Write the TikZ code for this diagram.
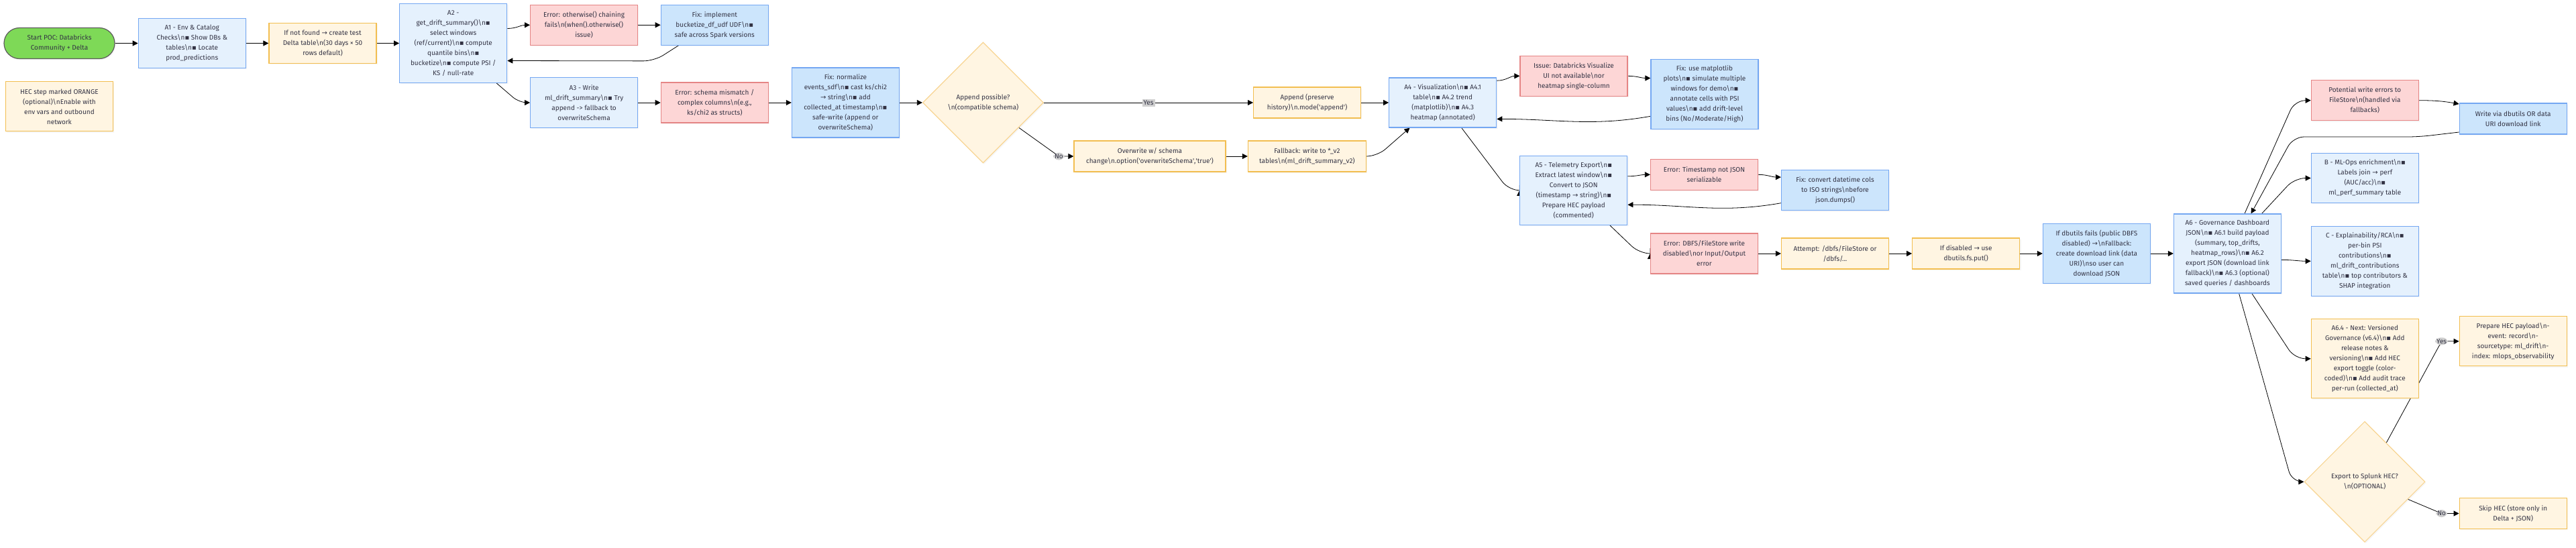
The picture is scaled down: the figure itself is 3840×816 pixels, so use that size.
\documentclass[tikz,border=0pt]{standalone}
\usepackage{fontspec}
\setmainfont{Fira Sans}
\newfontfamily\dvfont{DejaVu Sans}
\usepackage{tikz}
\usetikzlibrary{arrows.meta,positioning}
\usetikzlibrary{shapes.geometric,shadows,backgrounds}

\definecolor{ink}{HTML}{333344}
\definecolor{procfill}{HTML}{E5F1FD}
\definecolor{fixfill}{HTML}{CCE5FC}
\definecolor{procline}{HTML}{74A7F2}
\definecolor{errfill}{HTML}{FDD6D6}
\definecolor{errline}{HTML}{E58585}
\definecolor{optfill}{HTML}{FFF5E2}
\definecolor{optline}{HTML}{F2BE50}
\definecolor{dialine}{HTML}{F8D593}
\definecolor{startfill}{HTML}{7ED957}
\definecolor{startline}{HTML}{5C5C5C}
\definecolor{lblfill}{HTML}{CFCFCF}

\newcommand{\bsn}{\textbackslash n}
\newcommand{\bul}{{\dvfont ▪}}
\newcommand{\rarr}{{\dvfont →}}
\newcommand{\qt}{\textquotesingle}

\begin{document}
\begin{tikzpicture}[
    x=0.5pt,y=-0.5pt,
    >={Triangle[length=4pt,width=4pt]},
    thick,
    base/.style={
        rectangle,
        align=center,
        inner sep=1pt,
        line width=0.6pt,
        text=ink,
        font=\fontsize{5}{7.5}\selectfont,
        minimum width=80pt,
        drop shadow={opacity=0.07,shadow xshift=0.9pt,shadow yshift=-0.9pt}
    },
    proc/.style={base, draw=procline, fill=procfill},
    fixbox/.style={base, draw=procline, fill=fixfill},
    errbox/.style={base, draw=errline, fill=errfill},
    optbox/.style={base, draw=optline, fill=optfill},
    decision/.style={
        base, diamond,
        draw=dialine, fill=optfill,
        minimum width=90pt, minimum height=90pt,
        inner sep=0pt
    },
    startbox/.style={
        base,
        draw=startline, fill=startfill,
        rounded corners=11.5pt,
        minimum width=82.5pt, minimum height=23pt
    },
    lbl/.style={
        fill=lblfill,
        text=ink,
        font=\fontsize{5}{6}\selectfont,
        inner sep=1pt
    }
]
\useasboundingbox (0,0) rectangle (3840,816);

% ====== start and first checks ======
\node[startbox] (start) at (88.5,64.5) {Start POC: Databricks\\Community + Delta};
\node[proc, minimum height=37pt] (a1) at (286.3,64.5) {A1 - Env \& Catalog\\Checks\bsn\bul{} Show DBs \&\\tables\bsn\bul{} Locate\\prod\_predictions};
\node[optbox, minimum height=30pt] (notfound) at (481,64.5) {If not found \rarr{} create test\\Delta table\bsn(30 days × 50\\rows default)};
\node[optbox, minimum height=37pt] (hecnote) at (88.4,158.8) {HEC step marked ORANGE\\(optional)\bsn Enable with\\env vars and outbound\\network};

% ====== A2 drift summary ======
\node[proc, minimum height=59pt] (a2) at (675.7,64.5) {A2 -\\get\_drift\_summary()\bsn\bul\\select windows\\(ref/current)\bsn\bul{} compute\\quantile bins\bsn\bul\\bucketize\bsn\bul{} compute PSI /\\KS / null-rate};
\node[errbox, minimum height=30pt] (err1) at (870.6,37.3) {Error: otherwise() chaining\\fails\bsn(when().otherwise()\\issue)};
\node[fixbox, minimum height=30pt] (fix1) at (1065.3,37.3) {Fix: implement\\bucketize\_df\_udf UDF\bsn\bul\\safe across Spark versions};

% ====== A3 write ======
\node[proc, minimum height=37.5pt] (a3) at (870.6,153) {A3 - Write\\ml\_drift\_summary\bsn\bul{} Try\\append -> fallback to\\overwriteSchema};
\node[errbox, minimum height=30pt] (err2) at (1065.3,153) {Error: schema mismatch /\\complex columns\bsn(e.g.,\\ks/chi2 as structs)};
\node[fixbox, minimum height=52pt] (fix2) at (1260.4,153) {Fix: normalize\\events\_sdf\bsn\bul{} cast ks/chi2\\\rarr{} string\bsn\bul{} add\\collected\_at timestamp\bsn\bul\\safe-write (append or\\overwriteSchema)};
\node[decision] (append) at (1465.5,153) {Append possible?\\\bsn(compatible schema)};
\node[optbox, minimum height=23pt] (appendbox) at (1948.6,153) {Append (preserve\\history)\bsn.mode(\qt append\qt)};
\node[optbox, minimum width=113pt, minimum height=23pt] (overwrite) at (1714,233) {Overwrite w/ schema\\change\bsn.option(\qt overwriteSchema\qt,\qt true\qt)};
\node[optbox, minimum width=88pt, minimum height=23pt] (fallback) at (1948.4,233) {Fallback: write to *\_v2\\tables\bsn(ml\_drift\_summary\_v2)};

% ====== A4 visualization ======
\node[proc, minimum height=37pt] (a4) at (2150.7,153) {A4 - Visualization\bsn\bul{} A4.1\\table\bsn\bul{} A4.2 trend\\(matplotlib)\bsn\bul{} A4.3\\heatmap (annotated)};
\node[errbox, minimum height=30pt] (issue) at (2346,113.3) {Issue: Databricks Visualize\\UI not available\bsn or\\heatmap single-column};
\node[fixbox, minimum height=52pt] (fix3) at (2541,140.5) {Fix: use matplotlib\\plots\bsn\bul{} simulate multiple\\windows for demo\bsn\bul\\annotate cells with PSI\\values\bsn\bul{} add drift-level\\bins (No/Moderate/High)};

% ====== A5 telemetry ======
\node[proc, minimum height=51.5pt] (a5) at (2345.8,283.8) {A5 - Telemetry Export\bsn\bul\\Extract latest window\bsn\bul\\Convert to JSON\\(timestamp \rarr{} string)\bsn\bul\\Prepare HEC payload\\(commented)};
\node[errbox, minimum height=23pt] (errts) at (2540.5,260.3) {Error: Timestamp not JSON\\serializable};
\node[fixbox, minimum height=30pt] (fixts) at (2735.5,283.7) {Fix: convert datetime cols\\to ISO strings\bsn before\\json.dumps()};
\node[errbox, minimum height=30pt] (errdbfs) at (2540.5,378) {Error: DBFS/FileStore write\\disabled\bsn or Input/Output\\error};
\node[optbox, minimum height=23pt] (attempt) at (2735.5,378) {Attempt: /dbfs/FileStore or\\/dbfs/...};
\node[optbox, minimum height=23pt] (disabled) at (2930.7,378) {If disabled \rarr{} use\\dbutils.fs.put()};
\node[fixbox, minimum height=44.3pt] (dbfails) at (3125.4,378) {If dbutils fails (public DBFS\\disabled) \rarr\bsn Fallback:\\create download link (data\\URI)\bsn so user can\\download JSON};

% ====== A6 governance ======
\node[proc, minimum height=59pt] (a6) at (3320.4,378) {A6 - Governance Dashboard\\JSON\bsn\bul{} A6.1 build payload\\(summary, top\_drifts,\\heatmap\_rows)\bsn\bul{} A6.2\\export JSON (download link\\fallback)\bsn\bul{} A6.3 (optional)\\saved queries / dashboards};
\node[errbox, minimum height=30pt] (poterr) at (3525.3,149.7) {Potential write errors to\\FileStore\bsn(handled via\\fallbacks)};
\node[fixbox, minimum height=23pt] (writevia) at (3746.2,177) {Write via dbutils OR data\\URI download link};
\node[proc, minimum height=37pt] (b) at (3525.3,265.5) {B - ML-Ops enrichment\bsn\bul\\Labels join \rarr{} perf\\(AUC/acc)\bsn\bul\\ml\_perf\_summary table};
\node[proc, minimum height=52pt] (c) at (3525.3,389.3) {C - Explainability/RCA\bsn\bul\\per-bin PSI\\contributions\bsn\bul\\ml\_drift\_contributions\\table\bsn\bul{} top contributors \&\\SHAP integration};
\node[optbox, minimum height=59pt] (a64) at (3525.3,534.8) {A6.4 - Next: Versioned\\Governance (v6.4)\bsn\bul{} Add\\release notes \&\\versioning\bsn\bul{} Add HEC\\export toggle (color-\\coded)\bsn\bul{} Add audit trace\\per-run (collected\_at)};
\node[optbox, minimum height=37pt] (prepare) at (3746.2,508.8) {Prepare HEC payload\bsn-\\event: record\bsn-\\sourcetype: ml\_drift\bsn-\\index: mlops\_observability};
\node[decision] (export) at (3525,718.3) {Export to Splunk HEC?\\\bsn(OPTIONAL)};
\node[optbox, minimum height=23pt] (skip) at (3746.2,765.5) {Skip HEC (store only in\\Delta + JSON)};

% ====== connectors (under the boxes) ======
\begin{scope}[on background layer]
\fill[white] (0,0) rectangle (3840,816);

\draw[->] (start) -- (a1);
\draw[->] (a1) -- (notfound);
\draw[->] (notfound) -- (a2);

\draw[->] ([yshift=11pt]a2.east) to[out=0,in=180] (err1.west);
\draw[->] (err1) -- (fix1);
\draw[->,rounded corners=8pt] ([xshift=-27pt]fix1.south) -- ++(-18pt,-11.5pt) -- ([yshift=-13pt]a2.east);
\draw[->,rounded corners=6pt] ([xshift=-8pt]a2.south east) -- ([xshift=-8pt]a3.west) -- (a3.west);

\draw[->] (a3) -- (err2);
\draw[->] (err2) -- (fix2);
\draw[->] (fix2) -- (append);
\draw[->] (append) -- node[lbl]{Yes} (appendbox);
\draw[->,rounded corners=4pt] (append.-35) -- ([xshift=-11pt]overwrite.west) node[lbl]{No} -- (overwrite.west);
\draw[->] (overwrite) -- (fallback);
\draw[->,rounded corners=8pt] (fallback.east) -- ++(8pt,0) -- ([xshift=-24.6pt]a4.south);
\draw[->] (appendbox) -- (a4);

\draw[->] ([yshift=16.4pt]a4.east) to[out=0,in=180] (issue.west);
\draw[->] (issue.east) to[out=0,in=180] ([yshift=12pt]fix3.west);
\draw[->] ([yshift=-16.4pt]fix3.west) to[out=190,in=0] ([yshift=-12.2pt]a4.east);
\draw[->,rounded corners=8pt] ([xshift=14pt]a4.south) -- ([xshift=-8pt]a5.west) -- (a5.west);

\draw[->] ([yshift=10.5pt]a5.east) to[out=0,in=180] (errts.west);
\draw[->] (errts.east) to[out=0,in=180] ([yshift=9.8pt]fixts.west);
\draw[->] ([yshift=-9.5pt]fixts.west) to[out=190,in=0] ([yshift=-10.7pt]a5.east);
\draw[->,rounded corners=8pt] ([xshift=27pt]a5.south) -- ([xshift=-8pt]errdbfs.west) -- (errdbfs.west);
\draw[->] (errdbfs) -- (attempt);
\draw[->] (attempt) -- (disabled);
\draw[->] (disabled) -- (dbfails);
\draw[->] (dbfails) -- (a6);

% A6 fan-out
\draw[->,rounded corners=8pt] ([xshift=12.8pt]a6.north) -- ([xshift=-12pt]poterr.west) -- (poterr.west);
\draw[->] (poterr.east) to[out=0,in=170] ([yshift=11pt]writevia.west);
\draw[->,rounded corners=8pt] ([yshift=-10pt]writevia.west) -- ++(-30pt,-3.5pt) -- ++(-93.5pt,0) -- ([xshift=17.6pt]a6.north);
\draw[->,rounded corners=8pt] ([xshift=25.6pt]a6.north) -- ([xshift=-12pt]b.west) -- (b.west);
\draw[->] ([yshift=-4.7pt]a6.east) to[out=0,in=180] (c.west);
\draw[->,rounded corners=8pt] ([xshift=18.2pt]a6.south) -- ([xshift=-12pt]a64.west) -- (a64.west);
\draw[->,rounded corners=8pt] ([xshift=8.6pt]a6.south) -- ([xshift=-9pt]export.west) -- (export.west);
\draw[->,rounded corners=4pt] (export.61) -- ([xshift=-13pt]prepare.west) node[lbl]{Yes} -- (prepare.west);
\draw[->,rounded corners=4pt] (export.-22) -- ([xshift=-13pt]skip.west) node[lbl]{No} -- (skip.west);
\end{scope}

\end{tikzpicture}
\end{document}
